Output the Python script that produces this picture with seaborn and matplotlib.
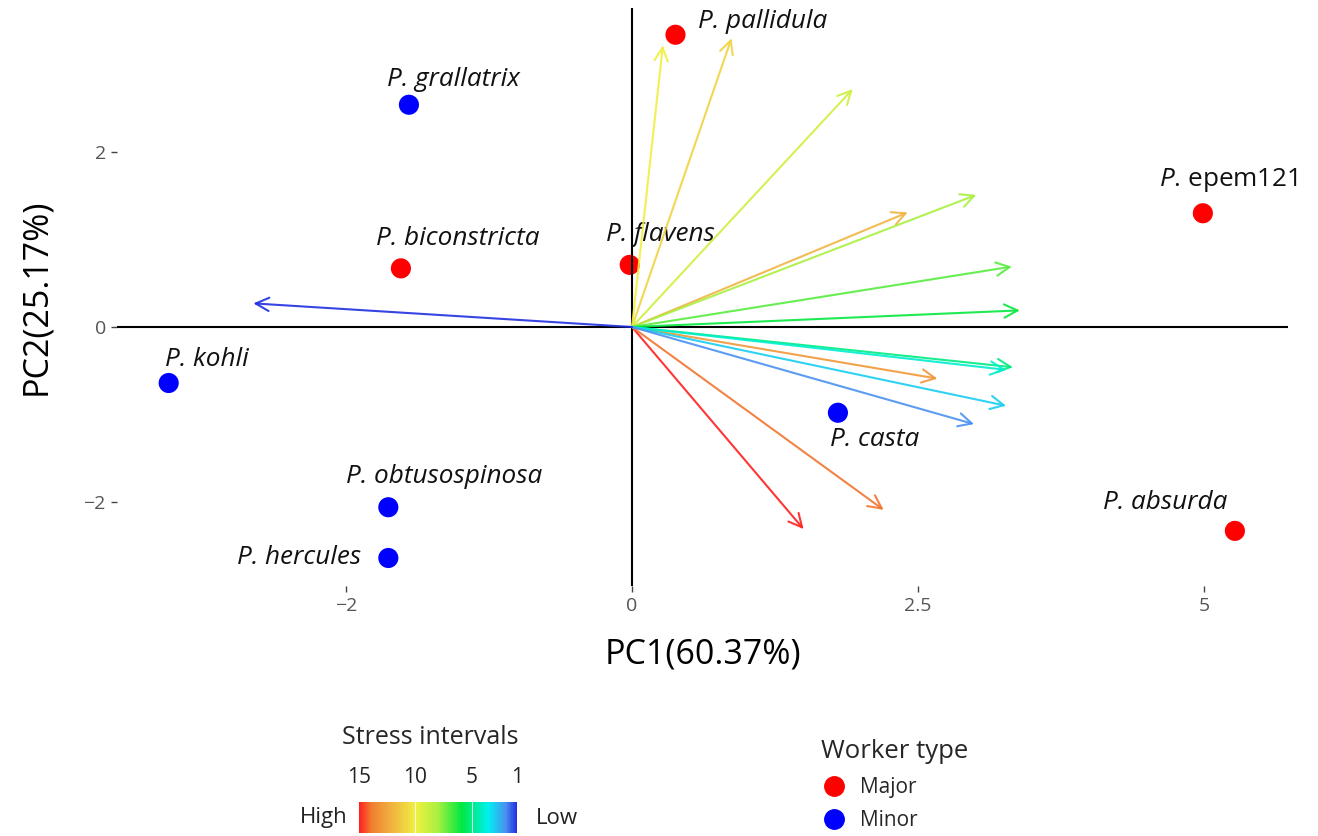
import numpy as np
import pandas as pd
import matplotlib
matplotlib.use("Agg")
import matplotlib.pyplot as plt
import seaborn as sns
from matplotlib.colors import LinearSegmentedColormap, Normalize
from matplotlib.cm import ScalarMappable
from matplotlib.lines import Line2D

# species scores (PC1, PC2)
species = ["P. pallidula", "P. grallatrix", "P. epem121", "P. biconstricta", "P. flavens",
           "P. kohli", "P. casta", "P. obtusospinosa", "P. hercules", "P. absurda"]
pc1 = [0.38, -1.95, 4.99, -2.02, -0.02, -4.05, 1.80, -2.13, -2.13, 5.27]
pc2 = [3.34, 2.54, 1.30, 0.67, 0.71, -0.64, -0.98, -2.06, -2.64, -2.33]
worker = ["Major", "Minor", "Major", "Major", "Major",
          "Minor", "Minor", "Minor", "Minor", "Major"]

# loadings of the stress intervals (arrow tips)
stress = [15, 14, 13, 12, 11, 10, 9, 8, 7, 6, 5, 4, 3, 2, 1]
load1 = [1.50, 2.20, 2.67, 2.41, 0.87, 0.27, 1.93, 3.01, 3.32, 3.39, 3.33, 3.27, 3.27, 2.99, -3.31]
load2 = [-2.31, -2.09, -0.59, 1.31, 3.30, 3.22, 2.72, 1.51, 0.69, 0.19, -0.46, -0.49, -0.90, -1.11, 0.27]

# axis ticks as printed on the original
xticks = [-2.5, 0, 2.5, 5]
xticklabels = ["\u22122", "0", "2.5", "5"]
yticks = [-2, 0, 2]
yticklabels = ["\u22122", "0", "2"]

# label offsets in pixels (layout only)
label_dx = [87, 44, 26, 57, 31, 38, 37, 56, -89, -70]
label_dy = [13, 25, 33, 30, 30, 23, -27, 31, 0, 28]

df = pd.DataFrame({"species": species, "PC1": pc1, "PC2": pc2, "Worker type": worker})
load = pd.DataFrame({"stress": stress, "x": load1, "y": load2})

sns.set_theme(style="white")
plt.rcParams["font.family"] = ["Open Sans", "DejaVu Sans"]
plt.rcParams["mathtext.fontset"] = "custom"
plt.rcParams["mathtext.rm"] = "Open Sans"
plt.rcParams["mathtext.it"] = "Open Sans:italic"

cmap = LinearSegmentedColormap.from_list("stress", [
    (0.0, "#2030e0"), (0.07, "#4a90f0"), (0.18, "#00f0f0"), (0.35, "#00e840"),
    (0.5, "#a8f040"), (0.64, "#f0f040"), (0.8, "#f0b040"), (0.92, "#f08030"),
    (1.0, "#ff2020")])
norm = Normalize(1, 15)

fig = plt.figure(figsize=(13.18, 8.36), dpi=100)
W, H = 1318, 836
left, right, top, bottom = 117, 1288, 8, 586
ax = fig.add_axes([left / W, 1 - bottom / H, (right - left) / W, (bottom - top) / H])

ax.axhline(0, color="black", lw=1.5, zorder=3)
ax.axvline(0, color="black", lw=1.5, zorder=3)

sns.scatterplot(data=df, x="PC1", y="PC2", hue="Worker type",
                palette={"Major": "#ff0000", "Minor": "#0000ff"},
                s=210, linewidth=0, legend=False, ax=ax, zorder=2)

for _, r in load.iterrows():
    ax.annotate("", xy=(r["x"], r["y"]), xytext=(0, 0),
                arrowprops=dict(arrowstyle="->,head_length=0.8,head_width=0.4",
                                color=cmap(norm(r["stress"])), lw=1.5, alpha=0.9,
                                shrinkA=0, shrinkB=0), zorder=4)

for i, r in df.iterrows():
    if r["species"] == "P. epem121":
        txt = "$\\mathit{P}$. epem121"
    else:
        txt = r["species"]
    ax.annotate(txt, xy=(r["PC1"], r["PC2"]),
                xytext=(label_dx[i] * 0.72, label_dy[i] * 0.72), textcoords="offset points",
                ha="center", va="center", fontsize=18.8,
                style="normal" if "epem" in txt else "italic", color="#111111", zorder=1)

x0 = 632
sx = 114.4
sy = 87.5
ax.set_xlim((left - x0) / sx, (right - x0) / sx)
ax.set_ylim((327 - bottom) / sy, (327 - top) / sy)
ax.set_xticks(xticks)
ax.set_xticklabels(xticklabels)
ax.set_yticks(yticks)
ax.set_yticklabels(yticklabels)
ax.tick_params(axis="both", bottom=True, left=True, length=4, width=1, color="#444444",
               labelcolor="#555555", labelsize=14, pad=4)
for sp in ax.spines.values():
    sp.set_visible(False)
ax.set_xlabel("PC1(60.37%)", fontsize=24.5, labelpad=16, color="black")
ax.set_ylabel("PC2(25.17%)", fontsize=24.5, labelpad=22, color="black")

# stress colour bar
cax = fig.add_axes([359 / W, 1 - 833 / H, 158 / W, 31 / H])
cb = fig.colorbar(ScalarMappable(norm=norm, cmap=cmap), cax=cax, orientation="horizontal")
cb.outline.set_visible(False)
cax.invert_xaxis()
cax.xaxis.set_ticks_position("top")
cb.set_ticks([15, 10, 5, 1])
cb.set_ticklabels(["15", "10", "5", "1"])
cax.tick_params(axis="x", length=0, labelsize=15, pad=10, labelcolor="#222222")
for v in [10, 5]:
    cax.axvline(v, color="white", lw=0.8, alpha=0.8)
fig.text(430 / W, 1 - 737 / H, "Stress intervals", ha="center", va="center", fontsize=18)
fig.text(324 / W, 1 - 818 / H, "High", ha="center", va="center", fontsize=16, color="#222222")
fig.text(557 / W, 1 - 818 / H, "Low", ha="center", va="center", fontsize=16, color="#222222")

# worker type legend
handles = [Line2D([], [], marker="o", ls="", color="#ff0000", markersize=14, label="Major"),
           Line2D([], [], marker="o", ls="", color="#0000ff", markersize=14, label="Minor")]
fig.legend(handles=handles, title="Worker type", loc="upper left",
           bbox_to_anchor=(811 / W, 1 - 729 / H), frameon=False, fontsize=15,
           title_fontsize=18.5, alignment="left", handletextpad=0.65, labelspacing=0.6,
           borderpad=0, handlelength=1.2)

fig.savefig("out.png", dpi=100)
